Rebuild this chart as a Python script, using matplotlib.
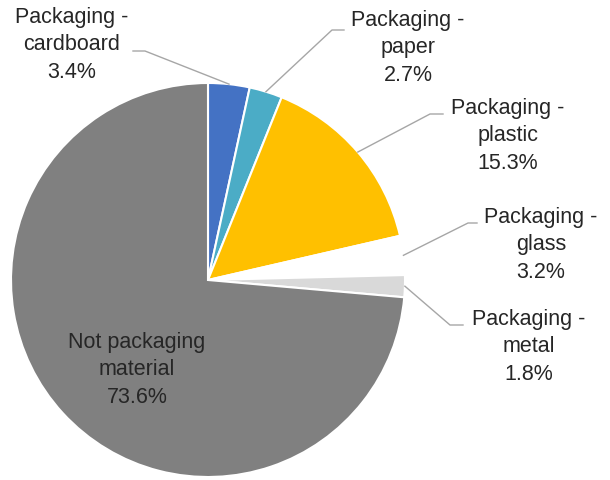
import numpy as np
import matplotlib.pyplot as plt

plt.rcParams['font.family'] = ['Liberation Sans', 'DejaVu Sans']

# waste composition shares (%)
names = ["Packaging -\ncardboard", "Packaging -\npaper", "Packaging -\nplastic",
         "Packaging -\nglass", "Packaging -\nmetal", "Not packaging\nmaterial"]
shares = [3.4, 2.7, 15.3, 3.2, 1.8, 73.6]
colours = ["#4472C4", "#4BACC6", "#FFC000", "#FFFFFF", "#D9D9D9", "#808080"]

# label placement in pixel coords: text centre, elbow of the leader line, leader end at text
text_xy = [(72, 45), (408, 48), (508, 136), (541, 245), (529, 347), (137, 370)]
elbow = [(145, 52), (332, 31), (430, 115), (468, 224), (450, 326), None]
leader_end = [(133, 52), (344, 31), (443, 115), (477, 224), (463, 326), None]

cx, cy, r = 208, 281, 197

fig = plt.figure(figsize=(6.1, 4.81), dpi=100)
ax = fig.add_axes([0, 0, 1, 1])

wedges, _ = ax.pie(shares, colors=colours, center=(cx, cy), radius=r,
                   startangle=-90, counterclock=True,
                   wedgeprops=dict(edgecolor="white", linewidth=1.5))

ax.set_xlim(0, 610)
ax.set_ylim(481, 0)
ax.set_aspect("equal")
ax.axis("off")

for w, name, val, (tx, ty), el, le in zip(wedges, names, shares, text_xy, elbow, leader_end):
    ax.text(tx, ty, "%s\n%.1f%%" % (name, val), ha="center", va="center",
            fontsize=15.5, color="#262626", linespacing=1.42)
    if el is None:
        continue
    mid = np.radians((w.theta1 + w.theta2) / 2)
    px, py = cx + r * np.cos(mid), cy + r * np.sin(mid)
    ax.plot([px, el[0], le[0]], [py, el[1], le[1]], color="#A6A6A6", lw=1)

fig.savefig("out.png", dpi=100)
